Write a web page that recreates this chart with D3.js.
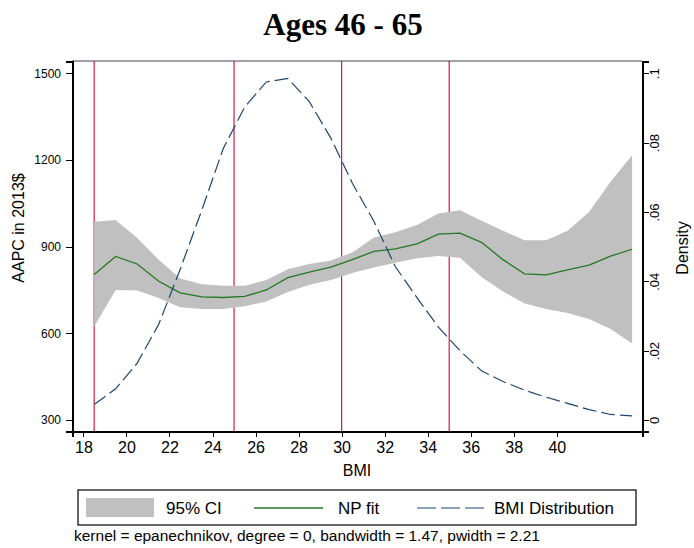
<!DOCTYPE html>
<meta charset="utf-8">
<style>
  body { margin: 0; background: #fff; }
  svg { display: block; font-family: "Liberation Sans", Arial, sans-serif; }
  .axis path, .axis line { stroke: #000; shape-rendering: crispEdges; }
  .axis text { fill: #000; }
</style>
<svg></svg>
<script src="https://d3js.org/d3.v7.min.js"></script>
<script>

var bmi      = [18.5,19.5,20.5,21.5,22.5,23.5,24.5,25.5,26.5,27.5,28.5,29.5,30.5,31.5,32.5,33.5,34.5,35.5,36.5,37.5,38.5,39.5,40.5,41.5,42.5,43.5];
var npFit    = [804,866,840,780,740,726,724,728,750,793,812,829,855,884,892,910,943,947,915,855,806,802,820,836,867,891];
var ciUpper  = [986,992,930,855,790,770,765,765,785,822,840,852,880,932,950,975,1015,1026,990,955,922,922,955,1020,1125,1216];
var ciLower  = [623,750,748,722,690,684,684,694,710,743,768,785,809,828,844,860,868,862,795,745,703,684,670,650,615,565];
var density  = [.0045,.009,.0164,.0276,.0435,.0605,.0783,.0903,.0975,.0985,.0918,.0813,.0683,.0573,.0442,.0353,.0268,.02,.0142,.0111,.0086,.0066,.0048,.003,.0016,.0012];

var cutoffs    = [18.5, 25, 30, 35];
var xTicks     = [18,20,22,24,26,28,30,32,34,36,38,40];
var yTicks     = [300,600,900,1200,1500];
var densTicks  = [0,.02,.04,.06,.08,.1];
var densLabels = ["0",".02",".04",".06",".08",".1"];

var W = 694, H = 548;
var pL = 72, pR = 642, pT = 61, pB = 431;

var svg = d3.select("svg").attr("width", W).attr("height", H);

var x  = d3.scaleLinear().domain([17.47, 43.96]).range([pL, pR]);
var y  = d3.scaleLinear().domain([262, 1542.5]).range([pB, pT]);
var y2 = d3.scaleLinear().domain([-0.00317, 0.10354]).range([pB, pT]);

var rows = bmi.map(function(b, i) {
  return {b: b, fit: npFit[i], lo: ciLower[i], hi: ciUpper[i], dens: density[i]};
});

// title
svg.append("text")
  .attr("x", 343).attr("y", 35)
  .attr("text-anchor", "middle")
  .style("font-family", "'Liberation Serif', 'Times New Roman', serif")
  .style("font-weight", "bold")
  .style("font-size", "31px")
  .text("Ages 46 - 65");

// cutoff lines
svg.selectAll(".cut").data(cutoffs).enter().append("line")
  .attr("x1", function(d) { return x(d); })
  .attr("x2", function(d) { return x(d); })
  .attr("y1", pT).attr("y2", pB)
  .attr("stroke", "#d4174a").attr("stroke-width", 1.2);

// CI band
svg.append("path").datum(rows)
  .attr("fill", "#c0c0c0")
  .attr("d", d3.area()
    .x(function(d) { return x(d.b); })
    .y0(function(d) { return y(d.lo); })
    .y1(function(d) { return y(d.hi); }));

// NP fit
svg.append("path").datum(rows)
  .attr("fill", "none").attr("stroke", "#237823").attr("stroke-width", 1.3)
  .attr("d", d3.line()
    .x(function(d) { return x(d.b); })
    .y(function(d) { return y(d.fit); }));

// BMI density
svg.append("path").datum(rows)
  .attr("fill", "none").attr("stroke", "#1a476f").attr("stroke-width", 1.2)
  .attr("stroke-dasharray", "14,5")
  .attr("d", d3.line()
    .x(function(d) { return x(d.b); })
    .y(function(d) { return y2(d.dens); }));

// frame top
svg.append("line")
  .attr("x1", pL).attr("x2", pR).attr("y1", pT).attr("y2", pT)
  .attr("stroke", "#444").attr("stroke-width", 1);

// axes
var gx = svg.append("g").attr("class", "axis")
  .attr("transform", "translate(0," + pB + ")")
  .call(d3.axisBottom(x).tickValues(xTicks).tickSizeOuter(0).tickSize(6).tickPadding(5));
gx.select(".domain").attr("stroke-width", 2);
gx.selectAll("text").style("font-size", "16px");

var gy = svg.append("g").attr("class", "axis")
  .attr("transform", "translate(" + pL + ",0)")
  .call(d3.axisLeft(y).tickValues(yTicks).tickFormat(d3.format("d"))
    .tickSizeOuter(0).tickSize(6).tickPadding(5));
gy.select(".domain").attr("stroke-width", 2);
gy.selectAll("text").style("font-size", "12px");

var gy2 = svg.append("g").attr("class", "axis")
  .attr("transform", "translate(" + pR + ",0)")
  .call(d3.axisRight(y2).tickValues(densTicks)
    .tickFormat(function(d, i) { return densLabels[i]; })
    .tickSizeOuter(0).tickSize(7).tickPadding(4));
gy2.select(".domain").attr("stroke-width", 2);
gy2.selectAll("text")
  .style("font-size", "13px")
  .attr("text-anchor", "middle")
  .attr("dy", 0)
  .attr("x", 0)
  .attr("transform", "translate(17,0) rotate(-90)");

// axis titles
svg.append("text")
  .attr("x", (pL + pR) / 2).attr("y", 476)
  .attr("text-anchor", "middle").style("font-size", "16px")
  .text("BMI");

svg.append("text")
  .attr("transform", "translate(24,228) rotate(-90)")
  .attr("text-anchor", "middle").style("font-size", "16px")
  .text("AAPC in 2013$");

svg.append("text")
  .attr("transform", "translate(688,248) rotate(-90)")
  .attr("text-anchor", "middle").style("font-size", "16px")
  .text("Density");

// legend
var lg = svg.append("g");
lg.append("rect")
  .attr("x", 78).attr("y", 490).attr("width", 558).attr("height", 35)
  .attr("fill", "none").attr("stroke", "#000").attr("stroke-width", 1.2);
lg.append("rect")
  .attr("x", 86).attr("y", 498).attr("width", 68).attr("height", 19)
  .attr("fill", "#c0c0c0");
lg.append("text").attr("x", 166).attr("y", 514).style("font-size", "17px").text("95% CI");
lg.append("line")
  .attr("x1", 254).attr("x2", 323).attr("y1", 508).attr("y2", 508)
  .attr("stroke", "#237823").attr("stroke-width", 1.3);
lg.append("text").attr("x", 338).attr("y", 514).style("font-size", "17px").text("NP fit");
lg.append("line")
  .attr("x1", 417).attr("x2", 484).attr("y1", 508).attr("y2", 508)
  .attr("stroke", "#1a476f").attr("stroke-width", 1.2)
  .attr("stroke-dasharray", "19,5");
lg.append("text").attr("x", 494).attr("y", 514).style("font-size", "17px").text("BMI Distribution");

// note
svg.append("text")
  .attr("x", 74).attr("y", 541)
  .style("font-size", "15.5px")
  .text("kernel = epanechnikov, degree = 0, bandwidth = 1.47, pwidth = 2.21");

</script>
